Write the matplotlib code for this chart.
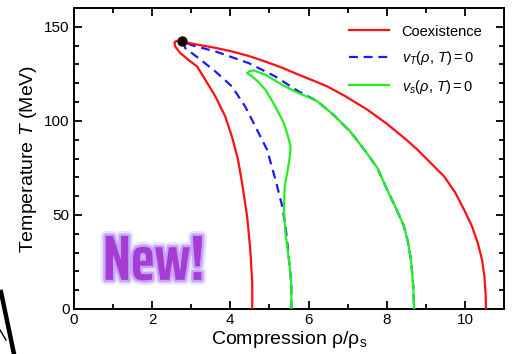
import numpy as np
import matplotlib.pyplot as plt
import matplotlib.patheffects as pe
from matplotlib.lines import Line2D

plt.rcParams['font.family'] = ['Liberation Sans', 'DejaVu Sans']
plt.rcParams['mathtext.fontset'] = 'custom'
plt.rcParams['mathtext.rm'] = 'Liberation Sans'
plt.rcParams['mathtext.it'] = 'Liberation Sans:italic'
plt.rcParams['mathtext.bf'] = 'Liberation Sans:bold'

# coexistence line (lower branch up to the apex, then the upper branch down)
coex_rho = [4.56, 4.56, 4.51, 4.43, 4.30, 4.19, 4.04, 3.87, 3.62, 3.36, 3.15,
            2.93, 2.72, 2.59, 2.57, 2.62, 2.70, 3.19, 3.62, 4.04, 4.47, 4.90,
            5.33, 5.75, 6.10, 6.48, 6.95, 7.50, 8.00, 8.50, 8.79, 9.13, 9.47,
            9.75, 9.98, 10.18, 10.33, 10.44, 10.50, 10.53, 10.54]
coex_T = [0, 13.7, 31.4, 49, 67, 80, 91.6, 102.3, 112.9, 121.8, 128.9,
          132.4, 136, 139.5, 141.7, 142.5, 142.4, 140.4, 138.8, 136.9, 134.5, 131.5,
          128.2, 124.5, 121.6, 118.3, 113, 106, 98.5, 90, 84.6, 77.5, 70.4,
          62, 52.7, 44, 35, 26, 17, 8, 0]

# isothermal spinodal v_T = 0
vt_rho = [5.56, 5.56, 5.50, 5.45, 5.41, 5.33, 5.15, 4.94, 4.64, 4.38, 4.04,
          3.62, 3.19, 2.85, 2.77, 3.00, 3.62, 4.47, 5.15, 5.75, 6.22, 6.65,
          7.08, 7.45, 7.76, 8.02, 8.25, 8.44, 8.55, 8.62, 8.68, 8.70]
vt_T = [0, 13.7, 26, 36.7, 43.8, 54.4, 69, 84.6, 97, 107.6, 118.3,
        126.2, 133.3, 138.6, 142.5, 140.3, 136.9, 130.7, 123.6, 115.6, 110.5, 103,
        94, 84, 75, 63, 53, 44, 35, 26, 12, 0]

# isentropic spinodal v_s = 0
vs_rho = [5.56, 5.56, 5.50, 5.41, 5.37, 5.39, 5.45, 5.50, 5.53, 5.54, 5.50,
          5.37, 5.15, 4.90, 4.70, 4.56, 4.43, 4.50, 4.60, 4.90, 5.33, 5.75,
          6.22, 6.65, 7.08, 7.45, 7.76, 8.02, 8.25, 8.44, 8.55, 8.62, 8.68, 8.70]
vs_T = [0, 13.7, 26, 40.3, 52.7, 65, 72, 78, 82.5, 86, 89.9,
        98.8, 107.6, 116.5, 121, 123.6, 125.4, 126.5, 126.8, 124.5, 119.1, 114.7,
        110.5, 103, 94, 84, 75, 63, 53, 44, 35, 26, 12, 0]

crit_rho = 2.77
crit_T = 142.5

fig = plt.figure(figsize=(5.12, 3.54), dpi=100)
ax = fig.add_axes([74 / 512, 45 / 354, 430 / 512, 301 / 354])

ax.plot(vt_rho, vt_T, color='#1a1aff', lw=1.6, dashes=(4, 2.6), zorder=2,
        label=r'$\mathit{v_T(\rho,\,T) = 0}$')
ax.plot(vs_rho, vs_T, color='#22ee22', lw=1.6, zorder=3,
        label=r'$\mathit{v_s(\rho,\,T) = 0}$')
ax.plot(coex_rho, coex_T, color='#ff1010', lw=1.6, zorder=4,
        label='Coexistence')
ax.plot(crit_rho, crit_T, 'o', color='black', mec='#400000', ms=6.5, zorder=5)

handles, labels = ax.get_legend_handles_labels()
order = [2, 0, 1]
ax.legend([handles[i] for i in order], [labels[i] for i in order],
          loc='upper left', bbox_to_anchor=(0.64, 0.945), frameon=False,
          fontsize=10.5, handlelength=2.7, handletextpad=0.9,
          labelspacing=0.72, borderpad=0, borderaxespad=0)

ax.set_xlim(0, 11)
ax.set_ylim(0, 160)
ax.set_xticks([0, 2, 4, 6, 8, 10])
ax.set_xticks(np.arange(0, 12, 1), minor=True)
ax.set_yticks([0, 50, 100, 150])
ax.set_yticks(np.arange(0, 161, 10), minor=True)
ax.tick_params(which='both', direction='in', top=True, right=True,
               width=1.3, labelsize=11, pad=3)
ax.tick_params(which='major', length=5.5)
ax.tick_params(which='minor', length=3.5)
for s in ax.spines.values():
    s.set_linewidth(1.4)

ax.set_xlabel('Compression ρ/ρ$_\\mathrm{s}$', fontsize=14, labelpad=1)
ax.set_ylabel('Temperature $T$ (MeV)', fontsize=14, labelpad=4)

ax.text(0.74, 15.5, 'New!', fontsize=46, fontweight='bold',
        family=['Saira ExtraCondensed', 'Roboto Condensed', 'Liberation Sans'],
        color='#a63bd6', zorder=6, ha='left', va='baseline',
        path_effects=[pe.Stroke(linewidth=7, foreground='#d8ccff', alpha=0.6),
                      pe.Stroke(linewidth=3.5, foreground='#c6a6f6'),
                      pe.Normal()])

# bit of a neighbouring drawing poking into the lower left corner
fig.add_artist(Line2D([1 / 512, 14 / 512], [1 - 292 / 354, 0],
                      color='black', lw=3.2))
fig.add_artist(Line2D([0, 6 / 512], [1 - 330 / 354, 1 - 340 / 354],
                      color='black', lw=1))

fig.savefig('out.png', dpi=100)
